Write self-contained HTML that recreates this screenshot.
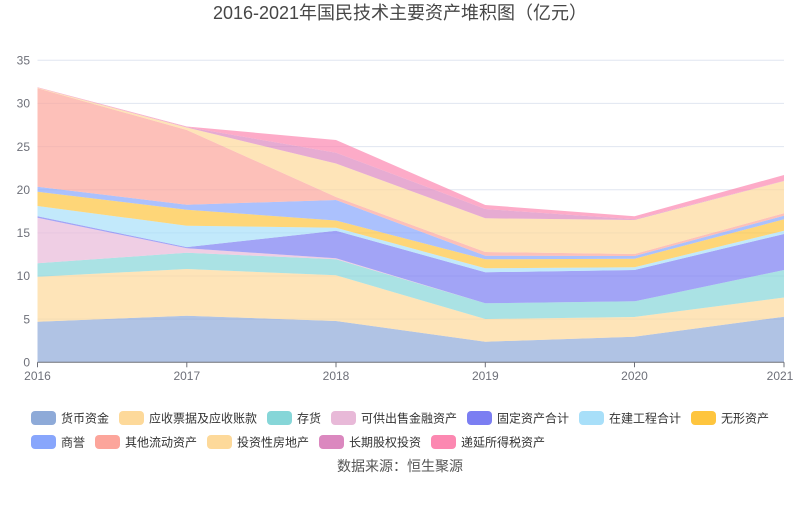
<!DOCTYPE html>
<html>
<head>
<meta charset="utf-8">
<style>
html,body{margin:0;padding:0;background:#fff;}
body{width:800px;height:501px;overflow:hidden;font-family:"Liberation Sans","Noto Sans CJK SC",sans-serif;}
</style>
</head>
<body>
<svg width="800" height="501" viewBox="0 0 800 501" xmlns="http://www.w3.org/2000/svg" style="font-family:'Liberation Sans','Noto Sans CJK SC',sans-serif;">
<rect width="800" height="501" fill="#fff"/>
<text x="400" y="19" text-anchor="middle" font-size="18" fill="#464646">2016-2021年国民技术主要资产堆积图（亿元）</text>

<!-- grid -->
<g stroke="#e0e6f1" stroke-width="1">
<line x1="37.5" y1="60.3" x2="784" y2="60.3"/>
<line x1="37.5" y1="103.4" x2="784" y2="103.4"/>
<line x1="37.5" y1="146.6" x2="784" y2="146.6"/>
<line x1="37.5" y1="189.7" x2="784" y2="189.7"/>
<line x1="37.5" y1="232.9" x2="784" y2="232.9"/>
<line x1="37.5" y1="276" x2="784" y2="276"/>
<line x1="37.5" y1="319.1" x2="784" y2="319.1"/>
</g>

<g font-size="12" fill="#6e7079" text-anchor="end">
<text x="30" y="64.5">35</text>
<text x="30" y="107.6">30</text>
<text x="30" y="150.8">25</text>
<text x="30" y="193.9">20</text>
<text x="30" y="237.1">15</text>
<text x="30" y="280.2">10</text>
<text x="30" y="323.3">5</text>
<text x="30" y="366.5">0</text>
</g>

<!-- areas -->
<g fill-opacity="0.7">
<polygon fill="#8eaad8" points="37.5,321.7 186.8,315.7 336,321 485.3,341.7 634.5,336.7 784,316.7 784,362.3 634.5,362.3 485.3,362.3 336,362.3 186.8,362.3 37.5,362.3"/>
<polygon fill="#fdd99a" points="37.5,276.7 186.8,269 336,275.3 485.3,319 634.5,317 784,297.5 784,316.7 634.5,336.7 485.3,341.7 336,321 186.8,315.7 37.5,321.7"/>
<polygon fill="#86d6d8" points="37.5,263.3 186.8,252.7 336,259.3 485.3,303.3 634.5,301.3 784,270 784,297.5 634.5,317 485.3,319 336,275.3 186.8,269 37.5,276.7"/>
<polygon fill="#e8b9d8" points="37.5,217.7 186.8,248.3 336,258.3 485.3,303.3 634.5,301.3 784,270 784,270 634.5,301.3 485.3,303.3 336,259.3 186.8,252.7 37.5,263.3"/>
<polygon fill="#7b7ef2" points="37.5,216.3 186.8,247.1 336,230.7 485.3,272.3 634.5,270 784,234 784,270 634.5,301.3 485.3,303.3 336,258.3 186.8,248.3 37.5,217.7"/>
<polygon fill="#a8dff9" points="37.5,206 186.8,225.7 336,227.7 485.3,268.3 634.5,267.3 784,230.7 784,234 634.5,270 485.3,272.3 336,230.7 186.8,247.1 37.5,216.3"/>
<polygon fill="#fec53e" points="37.5,191.7 186.8,209.7 336,220.5 485.3,259.3 634.5,258.7 784,219.3 784,230.7 634.5,267.3 485.3,268.3 336,227.7 186.8,225.7 37.5,206"/>
<polygon fill="#88a6fc" points="37.5,186.7 186.8,204.7 336,200 485.3,255.7 634.5,256 784,215.7 784,219.3 634.5,258.7 485.3,259.3 336,220.5 186.8,209.7 37.5,191.7"/>
<polygon fill="#fca59b" points="37.5,88.3 186.8,130 336,197 485.3,252 634.5,254 784,213.3 784,215.7 634.5,256 485.3,255.7 336,200 186.8,204.7 37.5,186.7"/>
<polygon fill="#fdd99a" points="37.5,87.8 186.8,127.5 336,163.5 485.3,218.3 634.5,220 784,181 784,213.3 634.5,254 485.3,252 336,197 186.8,130 37.5,88.3"/>
<polygon fill="#db88bf" points="37.5,87.6 186.8,127 336,152.7 485.3,209 634.5,219.3 784,180.8 784,181 634.5,220 485.3,218.3 336,163.5 186.8,127.5 37.5,87.8"/>
<polygon fill="#fc88b1" points="37.5,87.3 186.8,126.5 336,140 485.3,205 634.5,216.3 784,175 784,180.8 634.5,219.3 485.3,209 336,152.7 186.8,127 37.5,87.6"/>
</g>

<!-- x axis -->
<g stroke="#6e7079" stroke-width="1">
<line x1="37.5" y1="362.3" x2="784" y2="362.3"/>
<line x1="37.5" y1="362.3" x2="37.5" y2="367.3"/>
<line x1="186.8" y1="362.3" x2="186.8" y2="367.3"/>
<line x1="336" y1="362.3" x2="336" y2="367.3"/>
<line x1="485.3" y1="362.3" x2="485.3" y2="367.3"/>
<line x1="634.5" y1="362.3" x2="634.5" y2="367.3"/>
<line x1="784" y1="362.3" x2="784" y2="367.3"/>
</g>
<g font-size="12" fill="#6e7079" text-anchor="middle">
<text x="37.5" y="380">2016</text>
<text x="186.8" y="380">2017</text>
<text x="336" y="380">2018</text>
<text x="485.3" y="380">2019</text>
<text x="634.5" y="380">2020</text>
<text x="780" y="380">2021</text>
</g>

<!-- legend -->
<g font-size="12" fill="#333">
<rect x="31" y="411" width="25" height="14" rx="4" fill="#8eaad8"/><text x="61" y="422.5">货币资金</text>
<rect x="119" y="411" width="25" height="14" rx="4" fill="#fdd99a"/><text x="149" y="422.5">应收票据及应收账款</text>
<rect x="267" y="411" width="25" height="14" rx="4" fill="#86d6d8"/><text x="297" y="422.5">存货</text>
<rect x="331" y="411" width="25" height="14" rx="4" fill="#e8b9d8"/><text x="361" y="422.5">可供出售金融资产</text>
<rect x="467" y="411" width="25" height="14" rx="4" fill="#7b7ef2"/><text x="497" y="422.5">固定资产合计</text>
<rect x="579" y="411" width="25" height="14" rx="4" fill="#a8dff9"/><text x="609" y="422.5">在建工程合计</text>
<rect x="691" y="411" width="25" height="14" rx="4" fill="#fec53e"/><text x="721" y="422.5">无形资产</text>

<rect x="31" y="435" width="25" height="14" rx="4" fill="#88a6fc"/><text x="61" y="446.5">商誉</text>
<rect x="95" y="435" width="25" height="14" rx="4" fill="#fca59b"/><text x="125" y="446.5">其他流动资产</text>
<rect x="207" y="435" width="25" height="14" rx="4" fill="#fdd99a"/><text x="237" y="446.5">投资性房地产</text>
<rect x="319" y="435" width="25" height="14" rx="4" fill="#db88bf"/><text x="349" y="446.5">长期股权投资</text>
<rect x="431" y="435" width="25" height="14" rx="4" fill="#fc88b1"/><text x="461" y="446.5">递延所得税资产</text>
</g>

<text x="400" y="471" text-anchor="middle" font-size="14" fill="#555">数据来源：恒生聚源</text>
</svg>
</body>
</html>
